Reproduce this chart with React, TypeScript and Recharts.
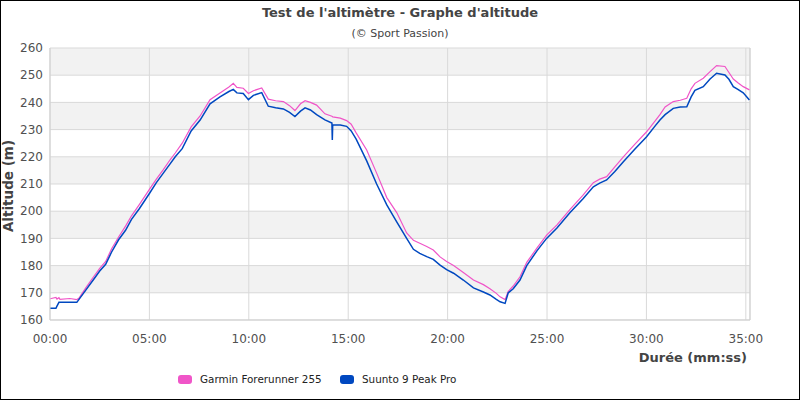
import React from 'react';
import {
  LineChart,
  Line,
  XAxis,
  YAxis,
  CartesianGrid,
  ReferenceLine,
} from 'recharts';

const times = [
  0, 0.3, 0.35, 0.45, 0.5, 1.0, 1.35, 1.45, 1.8, 2.2, 2.5, 2.8, 3.1, 3.45, 3.8, 4.1, 4.5, 5.0,
  5.35, 5.7, 6.05, 6.3, 6.65, 7.1, 7.55, 8.05, 8.55, 9.0, 9.22, 9.4, 9.72, 9.98, 10.23, 10.65,
  10.98, 11.35, 11.74, 12.05, 12.32, 12.6, 12.83, 13.1, 13.41, 13.83, 14.18, 14.2, 14.22, 14.6,
  14.92, 15.15, 15.4, 15.93, 16.43, 16.94, 17.44, 17.94, 18.28, 18.6, 18.95, 19.28, 19.62, 19.95,
  20.3, 20.79, 21.3, 21.8, 22.13, 22.45, 22.64, 22.89, 23.05, 23.3, 23.64, 23.98, 24.5, 24.98,
  25.5, 26.16, 26.8, 27.33, 27.65, 28.0, 28.4, 28.84, 29.4, 30.01, 30.4, 30.68, 30.94, 31.35,
  31.7, 32.03, 32.25, 32.44, 32.86, 33.2, 33.53, 33.95, 34.15, 34.37, 34.6, 34.87, 35.18,
];

const suunto = [
  164.3, 164.3, 165.1, 166.5, 166.5, 166.5, 166.5, 167.5, 171, 175, 178, 180.5, 185, 189.5, 193,
  197, 201, 206.5, 210.5, 214, 217.5, 220, 223, 229.5, 233.5, 239.5, 242, 244, 244.8, 243.5,
  243.3, 241, 242.6, 243.6, 238.6, 238, 237.6, 236.3, 234.8, 236.8, 238, 237.2, 235.5, 233.6,
  232.4, 226.2, 231.8, 231.7, 231.2, 229.5, 226.5, 218.5, 210, 202.3, 196.1, 190, 186, 184.5,
  183.3, 182.3, 180.2, 178.5, 177.2, 174.7, 171.8, 170.3, 169.2, 167.6, 166.7, 166.1, 170,
  171.5, 174.7, 180, 185.5, 190, 193.8, 199.5, 204.5, 209, 210.3, 211.5, 214.5, 218.2, 222.7,
  227.4, 231, 233.5, 235.5, 237.8, 238.3, 238.4, 242, 244.4, 245.8, 248.6, 250.7, 250.1, 248.5,
  245.8, 244.8, 243.5, 240.9,
];

const garmin = [
  167.8, 168.3, 167.7, 168.2, 167.6, 167.9, 167.5, 168, 171.8, 176, 179, 181.5, 186.2, 190.5,
  194.5, 198.3, 202.5, 208, 211.8, 215.3, 219, 221.4, 225, 231, 235, 241, 243.5, 245.7, 247,
  245.5, 245.2, 243.3, 244.3, 245.3, 241.2, 240.6, 240.3, 238.8, 237, 239.5, 240.6, 240, 239,
  235.8, 234.9, 234.8, 234.7, 234.2, 233.3, 232, 228.8, 222.5, 214, 205, 199.5, 192, 189.3,
  188.2, 187, 185.7, 183.2, 181.5, 180, 177.5, 174.7, 173, 171.5, 169.8, 168.5, 167.5, 170.5,
  172.5, 175.9, 181.2, 186.5, 191.2, 195, 200.7, 205.8, 210.5, 211.8, 212.7, 216.2, 220, 224.5,
  229.2, 232.8, 235.5, 238.3, 240.3, 240.8, 241.5, 245, 247, 248.9, 251.3, 253.5, 253.2, 251,
  248.6, 247.2, 245.8, 244.6,
];

const xTicks = [0, 5, 10, 15, 20, 25, 30, 35];
const yTicks = [160, 170, 180, 190, 200, 210, 220, 230, 240, 250, 260];
const X_MAX = 35.21;

const seriesNames = ['Garmin Forerunner 255', 'Suunto 9 Peak Pro'];
const seriesColors = ['#f055c8', '#0048c0'];

const data = times.map((t, i) => ({ t, garmin: garmin[i], suunto: suunto[i] }));

const fmt = (v: number) => {
  const m = Math.floor(v + 1e-9);
  const s = Math.round((v - m) * 60);
  return `${String(m).padStart(2, '0')}:${String(s).padStart(2, '0')}`;
};

const FONT = '"DejaVu Sans", sans-serif';

export default function App() {
  return (
    <div
      style={{
        position: 'absolute',
        left: 0,
        top: 0,
        width: 800,
        height: 400,
        boxSizing: 'border-box',
        border: '1px solid #000',
        background: '#fff',
        fontFamily: FONT,
        overflow: 'hidden',
      }}
    >
      <div style={{ position: 'absolute', left: -1, top: -1 }}>
        <LineChart
          width={800}
          height={400}
          data={data}
          margin={{ top: 48, right: 50, bottom: 50, left: 10 }}
        >
          <CartesianGrid
            stroke="#d9d9d9"
            strokeWidth={1}
            horizontalFill={['#f2f2f2', '#ffffff']}
            fillOpacity={1}
          />
          <XAxis
            dataKey="t"
            type="number"
            domain={[0, X_MAX]}
            ticks={xTicks}
            tickFormatter={fmt}
            axisLine={{ stroke: '#cfcfcf' }}
            tickLine={false}
            height={30}
            tickMargin={8}
            tick={{ fill: '#505050', fontSize: 12, fontFamily: FONT }}
            allowDataOverflow
          />
          <YAxis
            type="number"
            domain={[160, 260]}
            ticks={yTicks}
            width={40}
            axisLine={{ stroke: '#cfcfcf' }}
            tickLine={false}
            tickMargin={1}
            tick={{ fill: '#505050', fontSize: 12, fontFamily: FONT }}
          />
          <ReferenceLine x={X_MAX} stroke="#cfcfcf" ifOverflow="extendDomain" />
          <Line
            type="linear"
            dataKey="garmin"
            name={seriesNames[0]}
            stroke={seriesColors[0]}
            strokeWidth={1.2}
            dot={false}
            isAnimationActive={false}
          />
          <Line
            type="linear"
            dataKey="suunto"
            name={seriesNames[1]}
            stroke={seriesColors[1]}
            strokeWidth={1.5}
            dot={false}
            isAnimationActive={false}
          />
          <text x={400} y={17} textAnchor="middle" fontFamily={FONT} fontSize={13} fontWeight="bold" fill="#444">
            Test de l'altimètre - Graphe d'altitude
          </text>
          <text x={400} y={37} textAnchor="middle" fontFamily={FONT} fontSize={11} fill="#444">
            (© Sport Passion)
          </text>
          <text
            x={0}
            y={0}
            transform="translate(13, 186) rotate(-90)"
            textAnchor="middle"
            fontFamily={FONT}
            fontSize={13.5}
            fontWeight="bold"
            fill="#444"
          >
            Altitude (m)
          </text>
          <text x={747} y={362} textAnchor="end" fontFamily={FONT} fontSize={13} fontWeight="bold" fill="#444">
            Durée (mm:ss)
          </text>
        </LineChart>
      </div>
      <div
        style={{
          position: 'absolute',
          left: 0,
          top: 370,
          width: 800,
          height: 16,
          fontFamily: FONT,
          fontSize: 10.4,
          color: '#222',
        }}
      >
        {seriesNames.map((n, i) => (
          <div
            key={n}
            style={{
              position: 'absolute',
              left: i === 0 ? 177 : 339,
              top: 0,
              height: 16,
              display: 'flex',
              alignItems: 'center',
              whiteSpace: 'nowrap',
            }}
          >
            <span
              style={{
                display: 'inline-block',
                width: 14,
                height: 9,
                borderRadius: 3,
                background: seriesColors[i],
                marginRight: 8,
              }}
            />
            <span>{n}</span>
          </div>
        ))}
      </div>
    </div>
  );
}
